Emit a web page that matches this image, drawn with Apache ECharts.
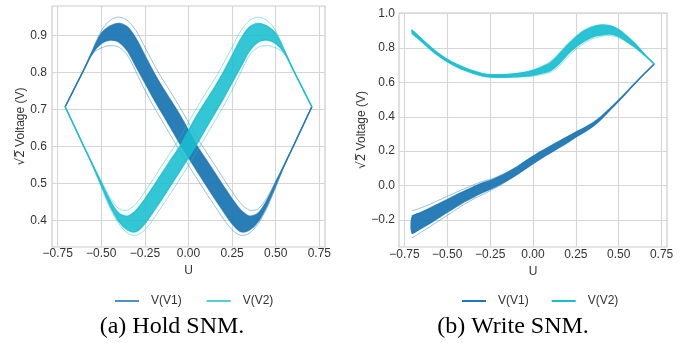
<!DOCTYPE html>
<html>
<head>
<meta charset="utf-8">
<script src="https://cdn.jsdelivr.net/npm/echarts@6/dist/echarts.min.js"></script>
<style>
  html, body { margin: 0; padding: 0; background: #fff; }
  #chart { width: 692px; height: 343px; }
</style>
</head>
<body>
<div id="chart"></div>
<script>
// tick labels
const xTicks = [-0.75, -0.5, -0.25, 0, 0.25, 0.5, 0.75];
const holdYTicks = [0.4, 0.5, 0.6, 0.7, 0.8, 0.9];
const writeYTicks = [-0.2, 0, 0.2, 0.4, 0.6, 0.8, 1.0];

// (a) Hold SNM - sweep positions and band edges
const holdU = [-0.707, -0.6, -0.55, -0.5, -0.45, -0.4, -0.35, -0.3, -0.25, -0.2, -0.15, -0.1, -0.05, 0,
  0.05, 0.1, 0.15, 0.2, 0.25, 0.3, 0.35, 0.4, 0.45, 0.5, 0.55, 0.6, 0.707];
const holdV1Lo = [0.707, 0.807, 0.852, 0.878, 0.887, 0.882, 0.858, 0.815, 0.772, 0.729, 0.689, 0.649, 0.608, 0.57,
  0.533, 0.496, 0.46, 0.425, 0.392, 0.37, 0.375, 0.398, 0.44, 0.495, 0.55, 0.6, 0.707];
const holdV1Hi = [0.707, 0.807, 0.858, 0.905, 0.925, 0.932, 0.922, 0.89, 0.845, 0.8, 0.76, 0.723, 0.685, 0.643,
  0.6, 0.565, 0.529, 0.493, 0.458, 0.428, 0.412, 0.42, 0.455, 0.503, 0.551, 0.6, 0.707];
const holdV1Top = [0.707, 0.807, 0.86, 0.912, 0.94, 0.949, 0.94, 0.912, 0.868, 0.823, 0.782, 0.745, 0.706, 0.665,
  0.623, 0.586, 0.55, 0.513, 0.478, 0.446, 0.428, 0.432, 0.462, 0.506, 0.552, 0.6, 0.707];
const holdV1Bot = [0.707, 0.807, 0.85, 0.866, 0.872, 0.868, 0.846, 0.8, 0.752, 0.708, 0.668, 0.628, 0.588, 0.549,
  0.512, 0.475, 0.44, 0.405, 0.375, 0.36, 0.366, 0.392, 0.434, 0.49, 0.548, 0.6, 0.707];
const holdV2Lo = [0.707, 0.6, 0.55, 0.495, 0.44, 0.398, 0.375, 0.37, 0.392, 0.425, 0.46, 0.496, 0.533, 0.57,
  0.608, 0.649, 0.689, 0.729, 0.772, 0.815, 0.858, 0.882, 0.887, 0.878, 0.852, 0.807, 0.707];
const holdV2Hi = [0.707, 0.6, 0.551, 0.503, 0.455, 0.42, 0.412, 0.428, 0.458, 0.493, 0.529, 0.565, 0.6, 0.643,
  0.685, 0.723, 0.76, 0.8, 0.845, 0.89, 0.922, 0.932, 0.925, 0.905, 0.858, 0.807, 0.707];
const holdV2Top = [0.707, 0.6, 0.552, 0.506, 0.462, 0.432, 0.428, 0.446, 0.478, 0.513, 0.55, 0.586, 0.623, 0.665,
  0.706, 0.745, 0.782, 0.823, 0.868, 0.912, 0.94, 0.949, 0.94, 0.912, 0.86, 0.807, 0.707];
const holdV2Bot = [0.707, 0.6, 0.548, 0.49, 0.434, 0.392, 0.366, 0.36, 0.375, 0.405, 0.44, 0.475, 0.512, 0.549,
  0.588, 0.628, 0.668, 0.708, 0.752, 0.8, 0.846, 0.868, 0.872, 0.866, 0.85, 0.807, 0.707];

// (b) Write SNM
const writeU = [-0.707, -0.65, -0.6, -0.55, -0.5, -0.45, -0.4, -0.35, -0.3, -0.25, -0.2, -0.15, -0.1, -0.05, 0,
  0.05, 0.1, 0.15, 0.2, 0.25, 0.3, 0.35, 0.4, 0.45, 0.5, 0.55, 0.6, 0.65, 0.707];
const writeV1Lo = [-0.279, -0.248, -0.219, -0.187, -0.155, -0.124, -0.094, -0.068, -0.043, -0.021, 0.003, 0.03, 0.06, 0.094, 0.128,
  0.16, 0.19, 0.22, 0.25, 0.283, 0.312, 0.345, 0.389, 0.441, 0.491, 0.545, 0.599, 0.651, 0.707];
const writeV1Hi = [-0.179, -0.154, -0.131, -0.106, -0.081, -0.056, -0.032, -0.009, 0.013, 0.029, 0.051, 0.076, 0.104, 0.138, 0.17,
  0.2, 0.228, 0.256, 0.283, 0.31, 0.336, 0.365, 0.403, 0.449, 0.497, 0.548, 0.601, 0.651, 0.707];
const writeV1Top = [-0.148, -0.128, -0.108, -0.085, -0.062, -0.04, -0.018, 0.003, 0.022, 0.036, 0.055, 0.078, 0.105, 0.138, 0.17,
  0.2, 0.228, 0.256, 0.283, 0.31, 0.336, 0.365, 0.403, 0.449, 0.497, 0.548, 0.601, 0.651, 0.707];
const writeV1Bot = [-0.305, -0.27, -0.238, -0.205, -0.174, -0.14, -0.108, -0.08, -0.055, -0.03, -0.003, 0.028, 0.06, 0.094, 0.128,
  0.16, 0.19, 0.22, 0.25, 0.283, 0.312, 0.345, 0.389, 0.441, 0.491, 0.545, 0.599, 0.651, 0.707];
const writeV2Lo = [0.885, 0.837, 0.793, 0.753, 0.72, 0.693, 0.671, 0.653, 0.638, 0.631, 0.629, 0.63, 0.632, 0.635, 0.641,
  0.652, 0.667, 0.705, 0.76, 0.805, 0.84, 0.865, 0.875, 0.88, 0.866, 0.835, 0.8, 0.757, 0.707];
const writeV2Hi = [0.905, 0.853, 0.808, 0.767, 0.734, 0.707, 0.685, 0.667, 0.652, 0.645, 0.644, 0.646, 0.65, 0.657, 0.669,
  0.688, 0.713, 0.76, 0.815, 0.862, 0.9, 0.922, 0.932, 0.928, 0.906, 0.866, 0.82, 0.764, 0.707];
const writeV2Top = [0.905, 0.853, 0.808, 0.767, 0.734, 0.707, 0.685, 0.667, 0.652, 0.645, 0.644, 0.646, 0.65, 0.658, 0.672,
  0.692, 0.72, 0.768, 0.822, 0.868, 0.905, 0.927, 0.936, 0.93, 0.907, 0.866, 0.82, 0.764, 0.707];
const writeV2Bot = [0.885, 0.837, 0.793, 0.753, 0.72, 0.693, 0.671, 0.653, 0.638, 0.631, 0.629, 0.63, 0.631, 0.633, 0.636,
  0.645, 0.658, 0.692, 0.745, 0.792, 0.828, 0.855, 0.868, 0.872, 0.86, 0.833, 0.8, 0.757, 0.707];

const C1 = '#1f77b4';
const C2 = '#17becf';
const FONT = 'Liberation Sans, Arial, sans-serif';

const fmt = (digits) => (v) => v.toFixed(digits).replace('-', '\u2212');

// dense Monte Carlo bundle: filled core plus a few faint stray runs
function bandSeries(name, gi, U, lo, hi, top, bot, color, fillOpacity) {
  return {
    type: 'custom',
    name: name,
    xAxisIndex: gi,
    yAxisIndex: gi,
    data: [0],
    clip: true,
    silent: true,
    itemStyle: { color: color },
    renderItem: function (params, api) {
      const toPts = (arr) => arr.map((v, i) => api.coord([U[i], v]));
      const loPts = toPts(lo);
      const hiPts = toPts(hi);
      const edge = (pts, w, op) => ({
        type: 'polyline',
        shape: { points: pts, smooth: 0.3 },
        style: { stroke: color, lineWidth: w, opacity: op, fill: null }
      });
      return {
        type: 'group',
        children: [
          {
            type: 'polygon',
            shape: { points: loPts.concat(hiPts.slice().reverse()), smooth: 0.3 },
            style: { fill: color, opacity: fillOpacity }
          },
          edge(loPts, 1.4, 0.8),
          edge(hiPts, 1.4, 0.8),
          edge(toPts(top), 0.9, 0.5),
          edge(toPts(bot), 0.9, 0.5)
        ]
      };
    }
  };
}

function xAxisFor(gi, min, max, labelMargin, nameGap) {
  return {
    type: 'value', gridIndex: gi, min: min, max: max,
    name: 'U', nameLocation: 'middle', nameGap: nameGap,
    nameTextStyle: { fontFamily: FONT, fontSize: 12, color: '#333' },
    axisLine: { show: false },
    axisTick: { show: false, customValues: xTicks },
    axisLabel: { customValues: xTicks, formatter: fmt(2), margin: labelMargin, fontFamily: FONT, fontSize: 12, color: '#333' },
    splitLine: { show: true, lineStyle: { color: '#d6d6d6', width: 1.1 } }
  };
}

function yAxisFor(gi, min, max, ticks, labelMargin, nameGap) {
  return {
    type: 'value', gridIndex: gi, min: min, max: max,
    name: '{r|\u221A2\u0305} Voltage (V)', nameLocation: 'middle', nameGap: nameGap,
    nameTextStyle: {
      fontFamily: FONT, fontSize: 12, color: '#333',
      rich: { r: { fontFamily: 'DejaVu Sans', fontSize: 12, color: '#333' } }
    },
    axisLine: { show: false },
    axisTick: { show: false, customValues: ticks },
    axisLabel: { customValues: ticks, formatter: fmt(1), margin: labelMargin, fontFamily: FONT, fontSize: 12, color: '#333' },
    splitLine: { show: true, lineStyle: { color: '#d6d6d6', width: 1.1 } }
  };
}

const chart = echarts.init(document.getElementById('chart'), null, { renderer: 'canvas' });

const option = {
  animation: false,
  backgroundColor: '#fff',
  grid: [
    { left: 52, top: 6, width: 273, height: 241, show: true, borderColor: '#cccccc', borderWidth: 1.2, backgroundColor: 'transparent' },
    { left: 399, top: 13, width: 268, height: 234, show: true, borderColor: '#cccccc', borderWidth: 1.2, backgroundColor: 'transparent' }
  ],
  xAxis: [
    xAxisFor(0, -0.7825, 0.7825, 1, 14),
    xAxisFor(1, -0.7815, 0.7815, 2, 16)
  ],
  yAxis: [
    yAxisFor(0, 0.3286, 0.979, holdYTicks, 5, 23),
    yAxisFor(1, -0.357, 1.003, writeYTicks, 4, 29)
  ],
  legend: [
    {
      left: 110, top: 290, icon: 'rect', itemWidth: 24, itemHeight: 2, itemGap: 25,
      textStyle: { fontFamily: FONT, fontSize: 12, color: '#333', padding: [0, 0, 0, 7] },
      data: [
        { name: 'V(V1)', itemStyle: { color: 'rgba(31,119,180,0.8)' } },
        { name: 'V(V2)', itemStyle: { color: 'rgba(23,190,207,0.75)' } }
      ]
    },
    {
      left: 457, top: 290, icon: 'rect', itemWidth: 24, itemHeight: 2, itemGap: 23,
      textStyle: { fontFamily: FONT, fontSize: 12, color: '#333', padding: [0, 0, 0, 7] },
      data: [
        { name: 'V(V1) ', itemStyle: { color: C1 } },
        { name: 'V(V2) ', itemStyle: { color: C2 } }
      ],
      formatter: (n) => n.trim()
    }
  ],
  graphic: [
    { type: 'text', x: 172, y: 327, style: { text: '(a) Hold SNM.', font: '24px "Liberation Serif", "Times New Roman", serif', fill: '#000', align: 'center', verticalAlign: 'middle' } },
    { type: 'text', x: 513, y: 327, style: { text: '(b) Write SNM.', font: '24px "Liberation Serif", "Times New Roman", serif', fill: '#000', align: 'center', verticalAlign: 'middle' } }
  ],
  series: [
    bandSeries('V(V1)', 0, holdU, holdV1Lo, holdV1Hi, holdV1Top, holdV1Bot, C1, 0.95),
    bandSeries('V(V2)', 0, holdU, holdV2Lo, holdV2Hi, holdV2Top, holdV2Bot, C2, 0.88),
    bandSeries('V(V1) ', 1, writeU, writeV1Lo, writeV1Hi, writeV1Top, writeV1Bot, C1, 0.95),
    bandSeries('V(V2) ', 1, writeU, writeV2Lo, writeV2Hi, writeV2Top, writeV2Bot, C2, 0.92)
  ]
};

chart.setOption(option);
</script>
</body>
</html>
